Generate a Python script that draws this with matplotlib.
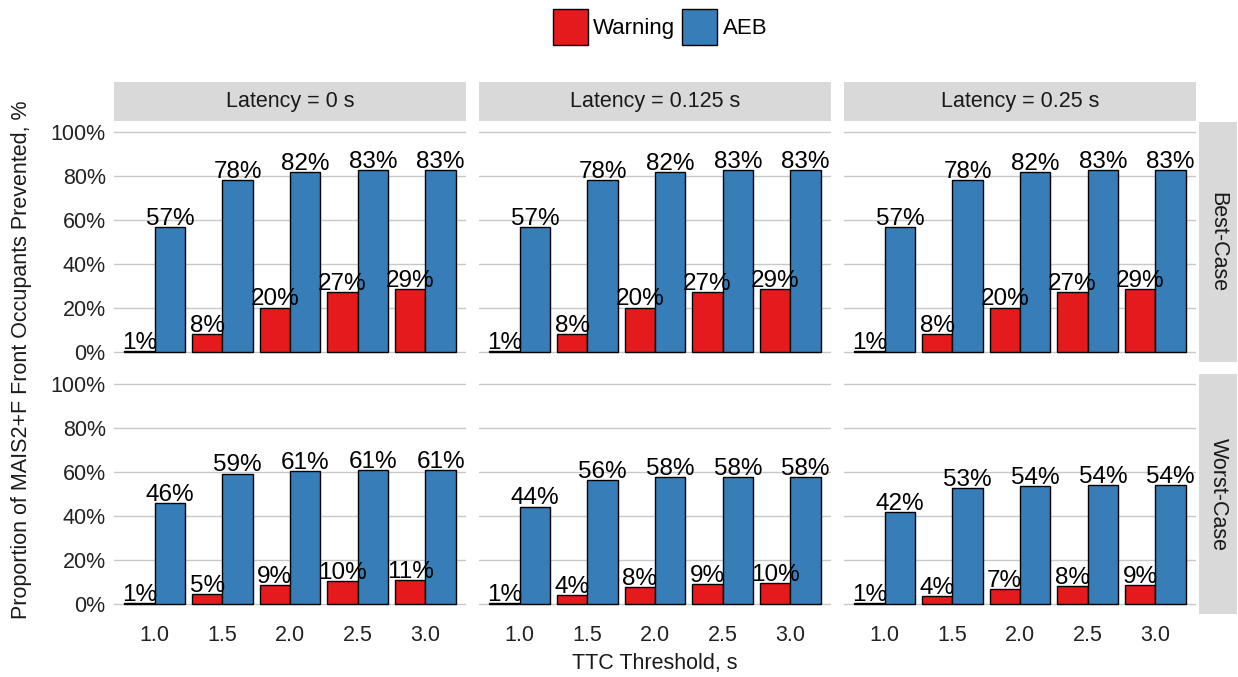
import matplotlib.pyplot as plt
import numpy as np
from matplotlib.patches import Patch

plt.rcParams['font.family'] = ['Liberation Sans', 'DejaVu Sans']

# TTC thresholds and facet levels
ttc = ["1.0", "1.5", "2.0", "2.5", "3.0"]
latencies = ["Latency = 0 s", "Latency = 0.125 s", "Latency = 0.25 s"]
cases = ["Best-Case", "Worst-Case"]

# proportions prevented (%), one list per case/latency
best_warning_0 = [0.6, 8.1, 20.2, 27.4, 28.7]
best_aeb_0 = [56.7, 78.3, 81.9, 82.7, 82.7]
best_warning_125 = [0.6, 8.1, 20.2, 27.3, 28.6]
best_aeb_125 = [56.7, 78.2, 81.8, 82.6, 82.6]
best_warning_25 = [0.6, 8.1, 20.2, 27.3, 28.6]
best_aeb_25 = [56.7, 78.2, 81.8, 82.6, 82.6]

worst_warning_0 = [0.6, 4.6, 8.7, 10.4, 10.8]
worst_aeb_0 = [45.9, 59.3, 60.6, 60.7, 60.7]
worst_warning_125 = [0.6, 3.9, 7.6, 9.1, 9.6]
worst_aeb_125 = [44.3, 56.4, 57.6, 57.8, 57.8]
worst_warning_25 = [0.6, 3.6, 6.7, 8.2, 8.6]
worst_aeb_25 = [42.0, 52.6, 53.7, 53.9, 53.9]

warning = [[best_warning_0, best_warning_125, best_warning_25],
           [worst_warning_0, worst_warning_125, worst_warning_25]]
aeb = [[best_aeb_0, best_aeb_125, best_aeb_25],
       [worst_aeb_0, worst_aeb_125, worst_aeb_25]]

RED = "#E41A1C"
BLUE = "#377EB8"
STRIP = "#D9D9D9"
W, H = 1238, 677

fig = plt.figure(figsize=(W / 100, H / 100), dpi=100)

def fig_axes(x0, y0, x1, y1):
    # pixel box (top-left origin) -> figure axes
    return fig.add_axes([x0 / W, 1 - y1 / H, (x1 - x0) / W, (y1 - y0) / H])

col_x = [(114, 466), (479, 831), (844, 1196)]
row_y = [(122, 362), (374, 614)]

x = np.arange(len(ttc))
bw = 0.45
for r in range(2):
    for c in range(3):
        ax = fig_axes(col_x[c][0], row_y[r][0], col_x[c][1], row_y[r][1])
        wv = np.array(warning[r][c]) / 100
        av = np.array(aeb[r][c]) / 100
        ax.bar(x - bw / 2, wv, bw, color=RED, edgecolor="black", linewidth=1, zorder=3)
        ax.bar(x + bw / 2, av, bw, color=BLUE, edgecolor="black", linewidth=1, zorder=3)
        for xi, v in zip(x - bw / 2, wv):
            ax.annotate(f"{round(v * 100)}%", (xi, v), xytext=(0, 1.5),
                        textcoords="offset points", ha="center", va="baseline",
                        fontsize=17.5, zorder=4)
        for xi, v in zip(x + bw / 2, av):
            ax.annotate(f"{round(v * 100)}%", (xi, v), xytext=(0, 1.5),
                        textcoords="offset points", ha="center", va="baseline",
                        fontsize=17.5, zorder=4)
        ax.set_xlim(-0.6, 4.6)
        ax.set_ylim(-10 / 220, 1 + 10 / 220)
        ax.set_yticks(np.arange(0, 1.01, 0.2))
        ax.yaxis.grid(True, color="#C8C8C8", linewidth=1, zorder=0)
        ax.set_axisbelow(True)
        for s in ax.spines.values():
            s.set_visible(False)
        ax.tick_params(length=0, labelsize=15.5, labelcolor="#222222", pad=8)
        ax.tick_params(axis="y", pad=6)
        if c == 0:
            ax.set_yticklabels([f"{int(t)}%" for t in np.arange(0, 101, 20)])
        else:
            ax.set_yticklabels([])
        ax.set_xticks(x)
        if r == 1:
            ax.set_xticklabels(ttc)
        else:
            ax.set_xticklabels([])

        # facet strips
        if r == 0:
            sx = fig_axes(col_x[c][0], 82, col_x[c][1], 121)
            sx.set_facecolor(STRIP)
            sx.set_xticks([]); sx.set_yticks([])
            for s in sx.spines.values():
                s.set_visible(False)
            sx.text(0.5, 0.5, latencies[c], ha="center", va="center",
                    fontsize=15.5, color="#1A1A1A", transform=sx.transAxes)
        if c == 2:
            sy = fig_axes(1199, row_y[r][0], 1237, row_y[r][1])
            sy.set_facecolor(STRIP)
            sy.set_xticks([]); sy.set_yticks([])
            for s in sy.spines.values():
                s.set_visible(False)
            sy.text(0.5, 0.5, cases[r], ha="center", va="center", rotation=-90,
                    fontsize=15.5, color="#1A1A1A", transform=sy.transAxes)

fig.text(655 / W, 1 - 664 / H, "TTC Threshold, s", ha="center", va="center",
         fontsize=15.5, color="#1A1A1A")
fig.text(22 / W, 1 - 360 / H, "Proportion of MAIS2+F Front Occupants Prevented, %",
         ha="center", va="center", rotation=90, fontsize=15.5, color="#1A1A1A")

handles = [Patch(facecolor=RED, edgecolor="black", linewidth=1),
           Patch(facecolor=BLUE, edgecolor="black", linewidth=1)]
fig.legend(handles, ["Warning", "AEB"], loc="center", bbox_to_anchor=(660 / W, 1 - 27 / H),
           ncol=2, frameon=False, fontsize=16, handlelength=1.58, handleheight=2.05,
           handletextpad=0.25, columnspacing=0.3)

fig.savefig("out.png", dpi=100)
